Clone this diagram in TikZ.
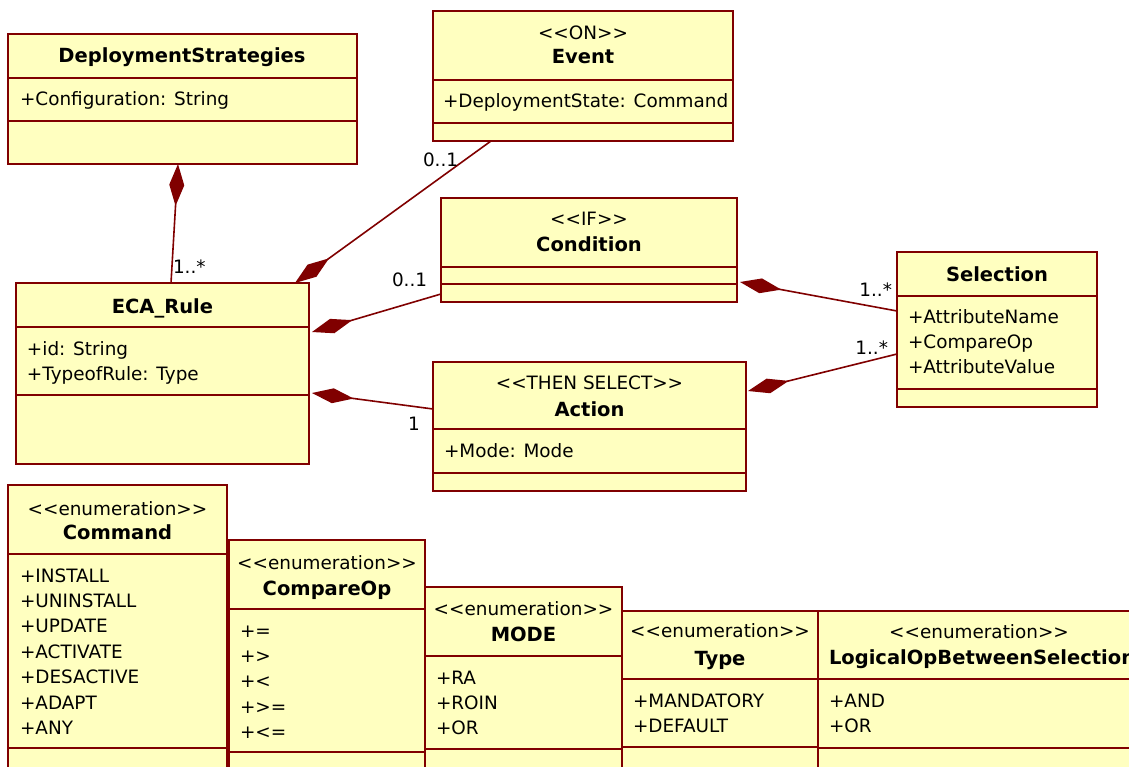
\documentclass[tikz,border=0pt]{standalone}
\usepackage{fontspec}
\setmainfont{DejaVu Sans}
\usetikzlibrary{arrows.meta,calc}
\definecolor{umlline}{RGB}{128,0,0}
\definecolor{umlfill}{RGB}{255,255,192}
\newcommand\umlrows[1]{\begin{tabular}[t]{@{}l@{}}#1\end{tabular}}
\begin{document}
\begin{tikzpicture}[x=1pt,y=-1pt,
  cls/.style={draw=umlline, fill=umlfill, line width=1.8pt, anchor=north west, inner sep=0pt, outer sep=0pt},
  sep/.style={draw=umlline, line width=1.8pt},
  txt/.style={inner sep=0pt, outer sep=0pt, font=\fontsize{18.4}{25.4}\selectfont, text=black},
  ttl/.style={txt, anchor=base, font=\fontsize{19.5}{25.4}\selectfont\bfseries},
  ster/.style={txt, anchor=base},
  attr/.style={txt, anchor=base west},
  mult/.style={txt, anchor=base west},
  multr/.style={txt, anchor=base east},
  assoc/.style={draw=umlline, line width=1.6pt},
  comp/.style={assoc, {Diamond[length=42pt,width=15pt,fill=umlline]}-},
]
\useasboundingbox (0,0) rectangle (1129,767);
\clip (0,0) rectangle (1129,767);
\fill[white] (0,0) rectangle (1129,767);

% DeploymentStrategies
\node[cls, minimum width=349pt, minimum height=130pt] (ds) at (8,34) {};
\draw[sep] ($(ds.north west)+(0,44)$) -- ($(ds.north east)+(0,44)$);
\draw[sep] ($(ds.north west)+(0,87)$) -- ($(ds.north east)+(0,87)$);
\node[ttl] (dst) at (182,63) {DeploymentStrategies};
\node[attr] (dsa) at (20,106) {+Configuration: String};

% Event
\node[cls, minimum width=300pt, minimum height=130pt] (ev) at (433,11) {};
\draw[sep] ($(ev.north west)+(0,69)$) -- ($(ev.north east)+(0,69)$);
\draw[sep] ($(ev.north west)+(0,112)$) -- ($(ev.north east)+(0,112)$);
\node[ster] (evs) at (583,40) {<{}<ON>{}>};
\node[ttl] (evt) at (583,64) {Event};
\node[attr] (eva) at (443,108) {+DeploymentState: Command};

% ECA_Rule
\node[cls, minimum width=293pt, minimum height=181pt] (eca) at (16,283) {};
\draw[sep] ($(eca.north west)+(0,44)$) -- ($(eca.north east)+(0,44)$);
\draw[sep] ($(eca.north west)+(0,112)$) -- ($(eca.north east)+(0,112)$);
\node[ttl] (ecat) at (162.5,313) {ECA\_Rule};
\node[attr] (ecaa) at (27,355) {\umlrows{+id: String\\+TypeofRule: Type}};

% Condition
\node[cls, minimum width=296pt, minimum height=104pt] (cond) at (441,198) {};
\draw[sep] ($(cond.north west)+(0,69)$) -- ($(cond.north east)+(0,69)$);
\draw[sep] ($(cond.north west)+(0,86)$) -- ($(cond.north east)+(0,86)$);
\node[ster] (conds) at (589,226) {<{}<IF>{}>};
\node[ttl] (condt) at (589,252) {Condition};

% Action
\node[cls, minimum width=313pt, minimum height=129pt] (act) at (433,362) {};
\draw[sep] ($(act.north west)+(0,67)$) -- ($(act.north east)+(0,67)$);
\draw[sep] ($(act.north west)+(0,111)$) -- ($(act.north east)+(0,111)$);
\node[ster] (acts) at (589.5,389) {<{}<THEN SELECT>{}>};
\node[ttl] (actt) at (589.5,416) {Action};
\node[attr] (acta) at (444,457) {+Mode: Mode};

% Selection
\node[cls, minimum width=200pt, minimum height=155pt] (sel) at (897,252) {};
\draw[sep] ($(sel.north west)+(0,44)$) -- ($(sel.north east)+(0,44)$);
\draw[sep] ($(sel.north west)+(0,137)$) -- ($(sel.north east)+(0,137)$);
\node[ttl] (selt) at (997,281) {Selection};
\node[attr] (sela) at (908,323) {\umlrows{+AttributeName\\+CompareOp\\+AttributeValue}};

% Command
\node[cls, minimum width=219pt, minimum height=320pt] (cmd) at (8,485) {};
\draw[sep] ($(cmd.north west)+(0,69)$) -- ($(cmd.north east)+(0,69)$);
\draw[sep] ($(cmd.north west)+(0,263)$) -- ($(cmd.north east)+(0,263)$);
\node[ster] (cmds) at (117.5,515) {<{}<enumeration>{}>};
\node[ttl] (cmdt) at (117.5,539) {Command};
\node[attr] (cmda) at (20,582) {\umlrows{+INSTALL\\+UNINSTALL\\+UPDATE\\+ACTIVATE\\+DESACTIVE\\+ADAPT\\+ANY}};

% CompareOp
\node[cls, minimum width=196pt, minimum height=300pt] (cmp) at (229,540) {};
\draw[sep] ($(cmp.north west)+(0,69)$) -- ($(cmp.north east)+(0,69)$);
\draw[sep] ($(cmp.north west)+(0,212)$) -- ($(cmp.north east)+(0,212)$);
\node[ster] (cmps) at (327,569) {<{}<enumeration>{}>};
\node[ttl] (cmpt) at (327,595) {CompareOp};
\node[attr] (cmpa) at (240,637) {\umlrows{+=\\+>\\+<\\+>=\\+<=}};

% MODE
\node[cls, minimum width=197pt, minimum height=300pt] (mode) at (425,587) {};
\draw[sep] ($(mode.north west)+(0,69)$) -- ($(mode.north east)+(0,69)$);
\draw[sep] ($(mode.north west)+(0,162)$) -- ($(mode.north east)+(0,162)$);
\node[ster] (modes) at (523.5,615) {<{}<enumeration>{}>};
\node[ttl] (modet) at (523.5,641) {MODE};
\node[attr] (modea) at (436,684) {\umlrows{+RA\\+ROIN\\+OR}};

% Type
\node[cls, minimum width=196pt, minimum height=300pt] (typ) at (622,611) {};
\draw[sep] ($(typ.north west)+(0,68)$) -- ($(typ.north east)+(0,68)$);
\draw[sep] ($(typ.north west)+(0,136)$) -- ($(typ.north east)+(0,136)$);
\node[ster] (typs) at (720,637) {<{}<enumeration>{}>};
\node[ttl] (typt) at (720,665) {Type};
\node[attr] (typa) at (633,707) {\umlrows{+MANDATORY\\+DEFAULT}};

% LogicalOpBetweenSelection
\node[cls, minimum width=322pt, minimum height=300pt] (lop) at (818,611) {};
\draw[sep] ($(lop.north west)+(0,68)$) -- ($(lop.north east)+(0,68)$);
\draw[sep] ($(lop.north west)+(0,137)$) -- ($(lop.north east)+(0,137)$);
\node[ster] (lops) at (979,638) {<{}<enumeration>{}>};
\node[ttl, anchor=base west] (lopt) at (829,664) {LogicalOpBetweenSelection};
\node[attr] (lopa) at (829,707) {\umlrows{+AND\\+OR}};

% connectors
\draw[comp] ($(ds.south west)+(170,0)$) -- ($(eca.north west)+(155,0)$);
\draw[comp] ($(eca.north west)+(279,0)$) -- ($(ev.south west)+(58,0)$);
\draw[comp] ($(eca.north east)+(3,49)$) -- ($(cond.north west)+(0,96)$);
\draw[comp] ($(eca.north east)+(3,110)$) -- ($(act.north west)+(0,47)$);
\draw[comp] ($(cond.north east)+(3,84)$) -- ($(sel.north west)+(0,59)$);
\draw[comp] ($(act.north east)+(2,29)$) -- ($(sel.north west)+(0,102)$);

% multiplicities
\node[mult] (m1) at (173,273) {1..*};
\node[mult] (m2) at (423,167) {0..1};
\node[mult] (m3) at (392,287) {0..1};
\node[mult] (m4) at (408,430) {1};
\node[multr] (m5) at (892,296) {1..*};
\node[multr] (m6) at (888,354) {1..*};
\end{tikzpicture}
\end{document}
